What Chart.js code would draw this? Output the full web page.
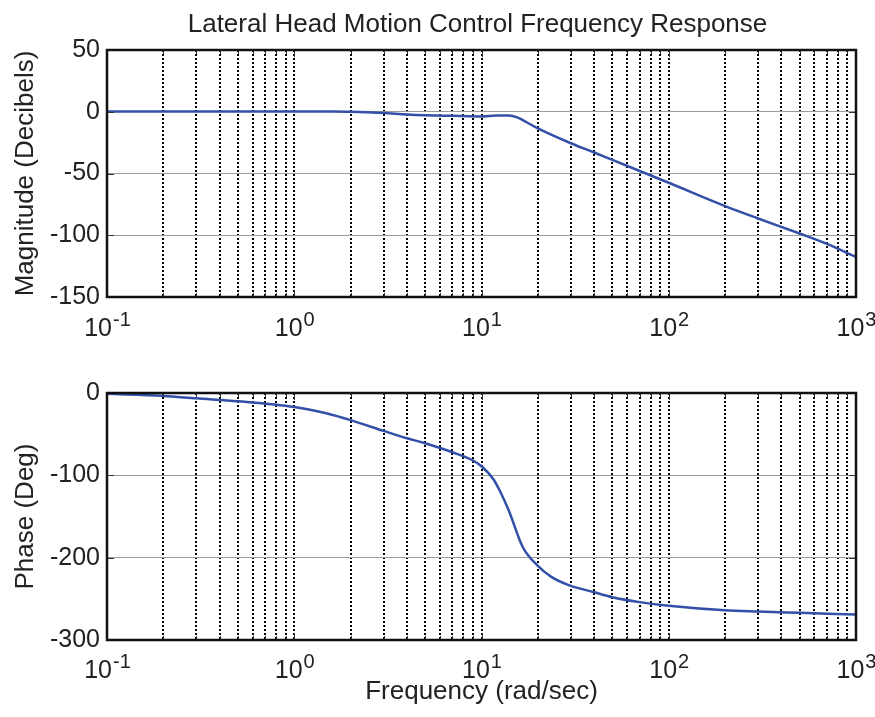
<!DOCTYPE html>
<html>
<head>
<meta charset="utf-8">
<title>Lateral Head Motion Control Frequency Response</title>
<script src="https://cdn.jsdelivr.net/npm/chart.js@4.4.1/dist/chart.umd.min.js"></script>
<style>
  html, body { margin: 0; padding: 0; background: #fff; }
  #wrap { position: relative; width: 875px; height: 717px; }
  canvas { position: absolute; left: 0; }
  #magChart { top: 0; }
  #phaseChart { top: 345px; }
</style>
</head>
<body>
<div id="wrap">
  <canvas id="magChart" width="875" height="345"></canvas>
  <canvas id="phaseChart" width="875" height="372"></canvas>
</div>
<script>
// magnitude (dB) vs frequency (rad/sec)
const magFreq = [0.1, 0.2, 0.5, 1, 1.5, 2, 3, 4, 5, 7, 10, 12, 14, 15.5, 17.5, 20, 30, 40, 50, 70, 100, 200, 300, 500, 700, 1000];
const magDb = [0.3, 0.3, 0.3, 0.3, 0.2, 0, -1, -2.2, -2.8, -3.3, -3.8, -3.0, -3.0, -4.6, -8.7, -13.5, -25.5, -33, -39, -48, -57.5, -76.4, -86.4, -98.6, -107, -117.6];

// phase (deg) vs frequency (rad/sec)
const phaseFreq = [0.1, 0.2, 0.3, 0.5, 1, 1.5, 2, 3, 4, 5, 7, 9, 10, 11.6, 12.6, 14, 16.6, 20, 23.5, 29, 40, 50, 70, 100, 200, 300, 500, 1000];
const phaseDeg = [-1, -3.5, -6.5, -10, -17, -25, -33, -46, -55, -61, -72, -82, -89, -105, -120, -143, -187, -210, -223, -233, -242, -248, -254, -258.5, -264, -265.5, -267, -269];

// axis ticks
const decadeExponents = [-1, 0, 1, 2, 3];
const magTicks = [50, 0, -50, -100, -150];
const phaseTicks = [0, -100, -200, -300];

const FONT = "'Liberation Sans', Arial, Helvetica, sans-serif";
const LINE_COLOR = "#3350a8";
const TEXT_COLOR = "#222";

Chart.defaults.font.family = FONT;
Chart.defaults.color = TEXT_COLOR;

// vertical grid at 1..9 x 10^n, like a matlab log axis
function logGridValues() {
  let values = [];
  for (let i = 0; i < decadeExponents.length - 1; i++) {
    let base = Math.pow(10, decadeExponents[i]);
    for (let m = 1; m < 10; m++) values.push(+(m * base).toPrecision(3));
  }
  values.push(Math.pow(10, decadeExponents[decadeExponents.length - 1]));
  return values;
}

const gridValues = logGridValues();

// frame, inward tick marks, title and 10^n labels
const bodePlugin = {
  id: "bode",
  afterDraw: function(chart, args, opts) {
    let ctx = chart.ctx;
    let area = chart.chartArea;
    let xs = chart.scales.x;
    let ys = chart.scales.y;

    ctx.save();

    // small inward ticks
    ctx.strokeStyle = "#333";
    ctx.lineWidth = 1;
    ctx.beginPath();
    ys.ticks.forEach(function(t) {
      let y = Math.round(ys.getPixelForValue(t.value)) + 0.5;
      ctx.moveTo(area.left, y); ctx.lineTo(area.left + 7, y);
      ctx.moveTo(area.right, y); ctx.lineTo(area.right - 7, y);
    });
    gridValues.forEach(function(v) {
      let x = Math.round(xs.getPixelForValue(v)) + 0.5;
      let len = Math.abs(Math.log10(v) % 1) < 1e-6 ? 7 : 4;
      ctx.moveTo(x, area.top); ctx.lineTo(x, area.top + len);
      ctx.moveTo(x, area.bottom); ctx.lineTo(x, area.bottom - len);
    });
    ctx.stroke();

    // box
    ctx.strokeStyle = "#111";
    ctx.lineWidth = 2.5;
    ctx.strokeRect(area.left, area.top, area.right - area.left, area.bottom - area.top);

    // decade labels with superscript exponent
    ctx.fillStyle = TEXT_COLOR;
    ctx.textBaseline = "alphabetic";
    ctx.textAlign = "left";
    decadeExponents.forEach(function(e) {
      let x = xs.getPixelForValue(Math.pow(10, e));
      let base = "10";
      let sup = String(e);
      ctx.font = "25px " + FONT;
      let wb = ctx.measureText(base).width;
      ctx.font = "20px " + FONT;
      let ws = ctx.measureText(sup).width;
      let start = x - (wb + ws) / 2;
      let y = area.bottom + opts.labelOffset;
      ctx.font = "25px " + FONT;
      ctx.fillText(base, start, y);
      ctx.font = "20px " + FONT;
      ctx.fillText(sup, start + wb + 1, y - 10);
    });

    if (opts.title) {
      ctx.font = "26px " + FONT;
      ctx.textAlign = "center";
      ctx.fillText(opts.title, (area.left + area.right) / 2 - 4, 32);
    }

    ctx.restore();
  }
};

function makeChart(canvasId, cfg) {
  return new Chart(document.getElementById(canvasId), {
    type: "line",
    data: {
      datasets: [{
        data: cfg.freq.map(function(f, i) { return { x: f, y: cfg.values[i] }; }),
        borderColor: LINE_COLOR,
        borderWidth: 2.5,
        pointRadius: 0,
        fill: false,
        cubicInterpolationMode: "monotone"
      }]
    },
    options: {
      responsive: false,
      animation: false,
      devicePixelRatio: 1,
      layout: {
        padding: { top: cfg.padTop, right: 19, bottom: 0, left: 0 }
      },
      plugins: {
        legend: { display: false },
        tooltip: { enabled: false },
        bode: { title: cfg.title, labelOffset: cfg.labelOffset }
      },
      scales: {
        x: {
          type: "logarithmic",
          min: 0.1,
          max: 1000,
          afterBuildTicks: function(scale) {
            scale.ticks = gridValues.map(function(v) { return { value: v }; });
          },
          afterFit: function(scale) { scale.height = cfg.xHeight; },
          ticks: { display: false, autoSkip: false },
          grid: { color: "#000", lineWidth: 2, drawTicks: false },
          border: { display: false, dash: [2, 2] },
          title: {
            display: !!cfg.xTitle,
            text: cfg.xTitle || "",
            font: { size: 26 },
            color: TEXT_COLOR,
            padding: { top: 0, bottom: 10 }
          }
        },
        y: {
          min: cfg.yTicks[cfg.yTicks.length - 1],
          max: cfg.yTicks[0],
          afterBuildTicks: function(scale) {
            scale.ticks = cfg.yTicks.map(function(v) { return { value: v }; });
          },
          afterFit: function(scale) { scale.width = 107; },
          ticks: { font: { size: 25 }, padding: 7, color: TEXT_COLOR },
          grid: { color: "#9a9a9a", lineWidth: 1, drawTicks: false },
          border: { display: false },
          title: {
            display: true,
            text: cfg.yTitle,
            font: { size: 26 },
            color: TEXT_COLOR,
            padding: { top: 10, bottom: 0 }
          }
        }
      }
    },
    plugins: [bodePlugin]
  });
}

makeChart("magChart", {
  freq: magFreq,
  values: magDb,
  yTicks: magTicks,
  yTitle: "Magnitude (Decibels)",
  title: "Lateral Head Motion Control Frequency Response",
  padTop: 50,
  xHeight: 48,
  labelOffset: 39
});

makeChart("phaseChart", {
  freq: phaseFreq,
  values: phaseDeg,
  yTicks: phaseTicks,
  yTitle: "Phase (Deg)",
  xTitle: "Frequency (rad/sec)",
  padTop: 48,
  xHeight: 77,
  labelOffset: 38
});
</script>
</body>
</html>
